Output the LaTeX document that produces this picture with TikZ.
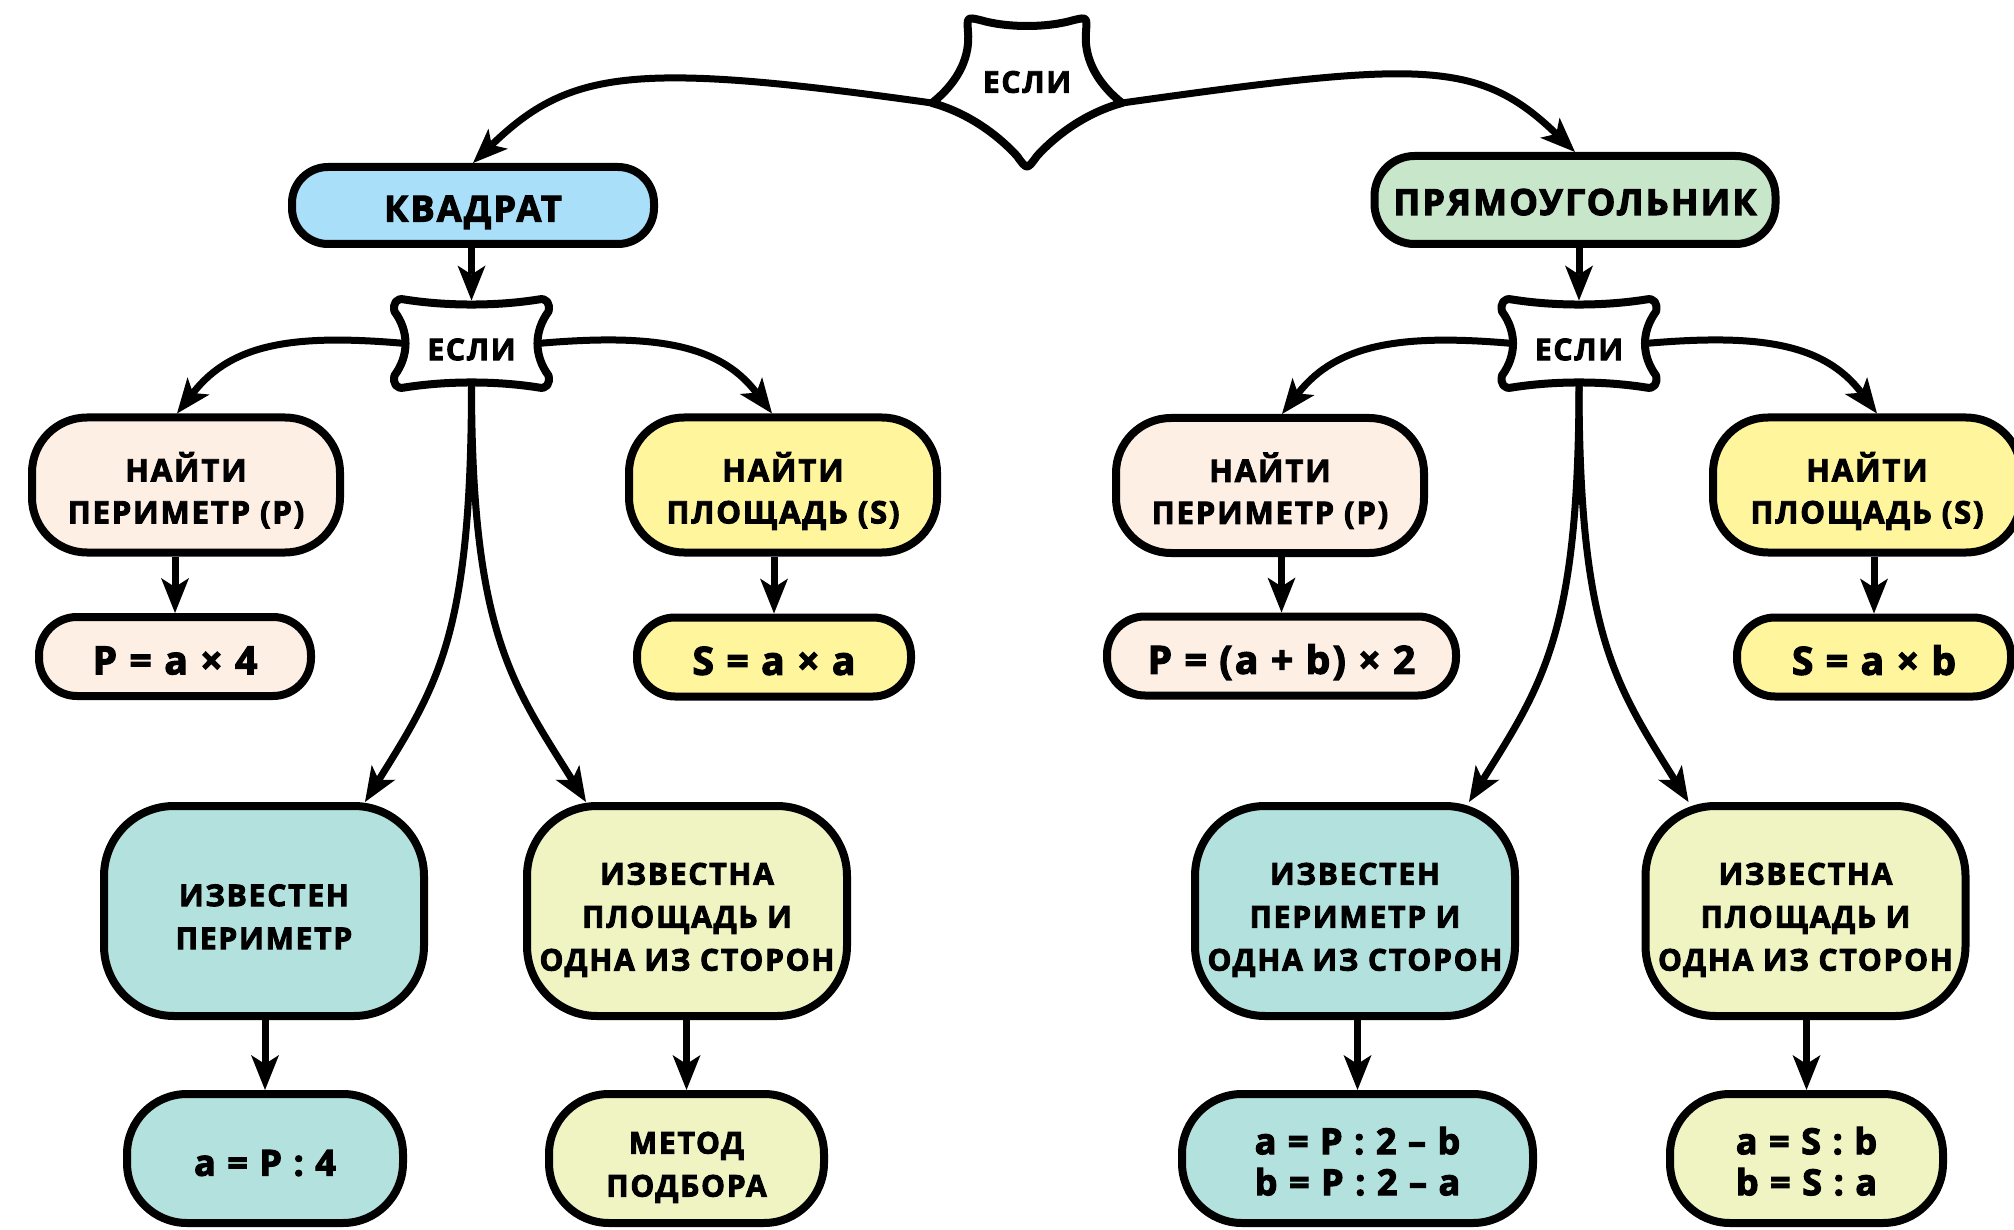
\documentclass[tikz,border=0pt]{standalone}
\usepackage{fontspec}
\IfFontExistsTF{Open Sans ExtraBold}
 {\setmainfont{Open Sans}[BoldFont={Open Sans ExtraBold},BoldFeatures={LetterSpace=3}]}
 {\setmainfont{Open Sans}[BoldFeatures={FakeBold=3,LetterSpace=6}]}
\usetikzlibrary{arrows.meta,calc}
\definecolor{cblue}{HTML}{A9DFF8}
\definecolor{cgreen}{HTML}{C8E6C9}
\definecolor{cpeach}{HTML}{FDEFE4}
\definecolor{cyellow}{HTML}{FFF59D}
\definecolor{cteal}{HTML}{B3E1DE}
\definecolor{clime}{HTML}{F0F4C3}
\newcommand{\ftTitle}{\bfseries\fontsize{36}{40}\selectfont}
\newcommand{\ftEsli}{\bfseries\fontsize{30}{34}\selectfont}
\newcommand{\ftLevel}{\bfseries\fontsize{31}{42}\selectfont}
\newcommand{\ftForm}{\bfseries\fontsize{39}{44}\selectfont}
\newcommand{\ftBig}{\bfseries\fontsize{30}{43}\selectfont}
\newcommand{\ftBot}{\bfseries\fontsize{36}{41}\selectfont}
\newcommand{\dn}[2]{\raisebox{-#1}[\height][\depth]{\begin{tabular}{@{}c@{}}#2\end{tabular}}}
\newcommand{\esliShape}[2]{%
\begin{scope}[shift={(#1)}]
\draw[shp] (-67,44) .. controls (-25,37.3) and (25,37.3) .. (67,44)
 .. controls (75,46) and (79,40) .. (77,32)
 .. controls (62.3,12) and (62.3,-12) .. (77,-32)
 .. controls (79,-40) and (75,-46) .. (67,-44)
 .. controls (25,-37.3) and (-25,-37.3) .. (-67,-44)
 .. controls (-75,-46) and (-79,-40) .. (-77,-32)
 .. controls (-62.3,-12) and (-62.3,12) .. (-77,32)
 .. controls (-79,40) and (-75,46) .. (-67,44) -- cycle;
\coordinate (#2n) at (0,43);
\coordinate (#2s) at (0,-39);
\coordinate (#2w) at (-66,0);
\coordinate (#2e) at (66,0);
\end{scope}}
\tikzset{
 shp/.style={draw=black, fill=white, line width=8pt, line join=round},
 bx/.style={draw=black, line width=8pt, rounded corners=#1, inner sep=0pt, align=center, text=black},
 esli/.style={inner sep=0pt, text=black, font=\ftEsli},
 lvl/.style={bx=55pt, minimum width=308pt, minimum height=135pt, font=\ftLevel},
 frm/.style={bx=38pt, minimum height=79pt, font=\ftForm},
 big/.style={bx=70pt, minimum width=320pt, minimum height=210pt, font=\ftBig},
 bot/.style={bx=60pt, minimum height=129pt},
 arr/.style={line width=7pt, -{Stealth[length=35pt,width=28pt,inset=9pt,line width=0pt]}},
}
\begin{document}
\begin{tikzpicture}[x=1pt,y=1pt]
\useasboundingbox (0,0) rectangle (2014,-1230);
\fill[white] (0,0) rectangle (2014,-1230);
\clip (0,0) rectangle (2014,-1230);

% top star
\coordinate (c0) at (1027,-90);
\begin{scope}[shift={(c0)}]
 \draw[shp] (-47,70) .. controls (-20,62) and (20,62) .. (47,70)
   .. controls (60,73) .. (59,58)
   .. controls (57,36) and (66,10) .. (95,-13)
   .. controls (62,-22) and (32,-42) .. (10,-66)
   .. controls (0,-80) .. (-10,-66)
   .. controls (-32,-42) and (-62,-22) .. (-95,-13)
   .. controls (-66,10) and (-57,36) .. (-59,58)
   .. controls (-60,73) .. (-47,70) -- cycle;
 \coordinate (s0w) at (-95,-13);
 \coordinate (s0e) at (95,-13);
\end{scope}
\node[esli] (if0) at ($(c0)+(0,8)$) {ЕСЛИ};

% second-level conditions
\coordinate (c1) at (471.5,-343.5);
\esliShape{c1}{e1}
\node[esli] (if1) at ($(c1)+(0,-6)$) {ЕСЛИ};
\coordinate (c2) at (1579,-343.5);
\esliShape{c2}{e2}
\node[esli] (if2) at ($(c2)+(0,-6)$) {ЕСЛИ};

% main boxes
\node[bx=36pt, fill=cblue, minimum width=362pt, minimum height=77pt, font=\ftTitle] (kv) at (473,-205.5) {\dn{8pt}{КВАДРАТ}};
\node[bx=40pt, fill=cgreen, minimum width=401pt, minimum height=88pt, font=\ftTitle] (pr) at (1575,-200) {\dn{7pt}{ПРЯМОУГОЛЬНИК}};

% level 3
\node[lvl, fill=cpeach] (np1) at (186,-485) {\dn{9pt}{НАЙТИ\\ПЕРИМЕТР (P)}};
\node[lvl, fill=cyellow] (ns1) at (783,-485) {\dn{9pt}{НАЙТИ\\ПЛОЩАДЬ (S)}};
\node[lvl, fill=cpeach] (np2) at (1270,-485.5) {\dn{9pt}{НАЙТИ\\ПЕРИМЕТР (P)}};
\node[lvl, fill=cyellow] (ns2) at (1867,-485) {\dn{9pt}{НАЙТИ\\ПЛОЩАДЬ (S)}};

\node[frm, fill=cpeach, minimum width=272pt] (fp1) at (175,-656.5) {\dn{9pt}{P = a × 4}};
\node[frm, fill=cyellow, minimum width=274pt] (fs1) at (774,-657) {\dn{9pt}{S = a × a}};
\node[frm, fill=cpeach, minimum width=349pt] (fp2) at (1281.5,-656) {\dn{9pt}{P = (a + b) × 2}};
\node[frm, fill=cyellow, minimum width=274pt] (fs2) at (1874,-657) {\dn{9pt}{S = a × b}};

% level 4
\node[big, fill=cteal] (k1) at (264,-911) {\dn{8pt}{ИЗВЕСТЕН\\ПЕРИМЕТР}};
\node[big, fill=clime] (k2) at (687,-911) {\dn{8pt}{ИЗВЕСТНА\\ПЛОЩАДЬ И\\ОДНА ИЗ СТОРОН}};
\node[big, fill=cteal] (k3) at (1355,-911) {\dn{8pt}{ИЗВЕСТЕН\\ПЕРИМЕТР И\\ОДНА ИЗ СТОРОН}};
\node[big, fill=clime] (k4) at (1805.5,-911) {\dn{8pt}{ИЗВЕСТНА\\ПЛОЩАДЬ И\\ОДНА ИЗ СТОРОН}};

% bottom
\node[bot, fill=cteal, minimum width=276pt, font=\ftBot] (r1) at (265,-1158.5) {\dn{9pt}{a = P : 4}};
\node[bot, fill=clime, minimum width=275pt, font=\ftBig] (r2) at (686.5,-1158.5) {\dn{8pt}{МЕТОД\\ПОДБОРА}};
\node[bot, fill=cteal, minimum width=351pt, font=\ftBot] (r3) at (1357.5,-1158.5) {\dn{8pt}{a = P : 2 – b\\b = P : 2 – a}};
\node[bot, fill=clime, minimum width=273pt, font=\ftBot] (r4) at (1806.5,-1158.5) {\dn{8pt}{a = S : b\\b = S : a}};

% connectors
\draw[arr] (s0w) to[out=172,in=44,out distance=300pt,in distance=135pt] (kv.north);
\draw[arr] (s0e) to[out=8,in=136,out distance=300pt,in distance=135pt] (pr.north);
\draw[arr] (e1n |- kv.south) -- (e1n);
\draw[arr] (e2n |- pr.south) -- (e2n);
\draw[arr] (e1w) to[out=175,in=52,out distance=110pt,in distance=90pt] ($(np1.north)+(-9,0)$);
\draw[arr] (e1e) to[out=5,in=127,out distance=110pt,in distance=90pt] ($(ns1.north)+(-11,0)$);
\draw[arr] (e2w) to[out=175,in=52,out distance=110pt,in distance=90pt] ($(np2.north)+(12,0)$);
\draw[arr] (e2e) to[out=5,in=127,out distance=110pt,in distance=90pt] ($(ns2.north)+(10,0)$);
\draw[arr] (fp1.north |- np1.south) -- (fp1.north);
\draw[arr] (fs1.north |- ns1.south) -- (fs1.north);
\draw[arr] (fp2.north |- np2.south) -- (fp2.north);
\draw[arr] (fs2.north |- ns2.south) -- (fs2.north);
\draw[arr] (e1s) to[out=-90,in=58,out distance=250pt,in distance=140pt] ($(k1.north east)+(-63,0)$);
\draw[arr] (e1s) to[out=-90,in=122,out distance=250pt,in distance=140pt] ($(k2.north west)+(63,0)$);
\draw[arr] (e2s) to[out=-90,in=58,out distance=250pt,in distance=140pt] ($(k3.north east)+(-50,0)$);
\draw[arr] (e2s) to[out=-90,in=122,out distance=250pt,in distance=140pt] ($(k4.north west)+(47,0)$);
\draw[arr] (r1.north |- k1.south) -- (r1.north);
\draw[arr] (r2.north |- k2.south) -- (r2.north);
\draw[arr] (r3.north |- k3.south) -- (r3.north);
\draw[arr] (r4.north |- k4.south) -- (r4.north);
\end{tikzpicture}
\end{document}
